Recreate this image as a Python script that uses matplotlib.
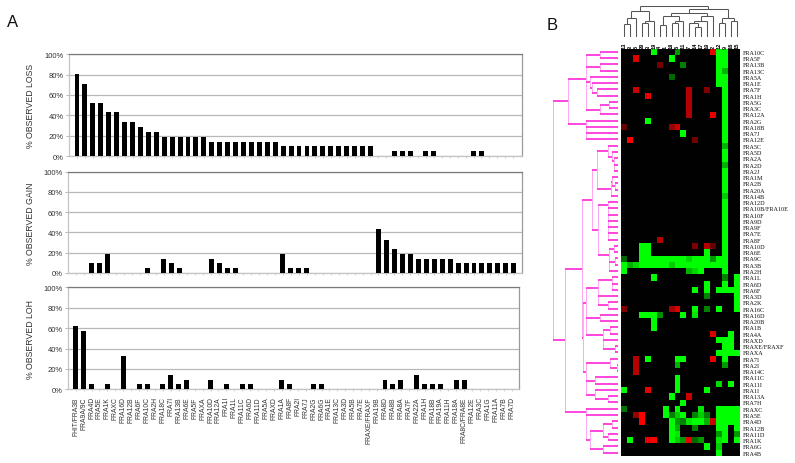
import matplotlib
matplotlib.use("Agg")
import matplotlib.pyplot as plt
import numpy as np
from matplotlib.colors import LinearSegmentedColormap

W, H = 795, 464

categories = ["FHIT/FRA3B", "FRA9A/9C", "FRA4D", "FRA5E", "FRA1K", "FRAXC", "FRA16D", "FRA12B",
              "FRA6F", "FRA10C", "FRA2H", "FRA18C", "FRA7I", "FRA13B", "FRA6E", "FRA5F", "FRAXA",
              "FRA10D", "FRA12A", "FRA1I", "FRA1L", "FRA11C", "FRA6D", "FRA11D", "FRA5A", "FRAXD",
              "FRA1A", "FRA8F", "FRA2I", "FRA7J", "FRA2G", "FRA6G", "FRA1E", "FRA13C", "FRA3D",
              "FRA5B", "FRA7E", "FRAXE/FRAXF", "FRA19B", "FRA8D", "FRA8B", "FRA8A", "FRA7F",
              "FRA22A", "FRA1H", "FRA18B", "FRA19A", "FRA11H", "FRA18A", "FRA8C/FRA8E", "FRA12E",
              "FRA3C", "FRA1G", "FRA11A", "FRA7B", "FRA7D"]

loss = [81, 71, 52, 52, 43, 43, 33, 33, 29, 24, 24, 19, 19, 19, 19, 19, 19, 14, 14, 14, 14, 14, 14, 14,
        14, 14, 9.5, 9.5, 9.5, 9.5, 9.5, 9.5, 9.5, 9.5, 9.5, 9.5, 9.5, 9.5, 0, 0, 4.8, 4.8, 4.8, 0,
        4.8, 4.8, 0, 0, 0, 0, 4.8, 4.8, 0, 0, 0, 0]
gain = [0, 0, 9.5, 9.5, 19, 0, 0, 0, 0, 4.8, 0, 14, 9.5, 4.8, 0, 0, 0, 14, 9.5, 4.8, 4.8, 0, 0, 0, 0, 0,
        19, 4.8, 4.8, 4.8, 0, 0, 0, 0, 0, 0, 0, 0, 43, 33, 24, 19, 19, 14, 14, 14, 14, 14, 9.5, 9.5,
        9.5, 9.5, 9.5, 9.5, 9.5, 9.5]
loh = [62, 57, 4.8, 0, 4.8, 0, 33, 0, 4.8, 4.8, 0, 4.8, 14, 4.8, 9.5, 0, 0, 9.5, 0, 4.8, 0, 4.8, 4.8, 0,
       0, 0, 9.5, 4.8, 0, 0, 4.8, 4.8, 0, 0, 0, 0, 0, 0, 0, 9.5, 4.8, 9.5, 0, 14, 4.8, 4.8, 4.8, 0,
       9.5, 9.5, 0, 0, 0, 0, 0, 0]

row_labels = ["FRA10C", "FRA5F", "FRA13B", "FRA13C", "FRA5A", "FRA1E", "FRA7F", "FRA1H", "FRA5G", "FRA3C",
              "FRA12A", "FRA2G", "FRA18B", "FRA7J", "FRA12E", "FRA5C", "FRA5D", "FRA2A", "FRA2D", "FRA2J",
              "FRA1M", "FRA2B", "FRA20A", "FRA14B", "FRA12D", "FRA10B/FRA10E", "FRA10F", "FRA9D", "FRA9F",
              "FRA7E", "FRA8F", "FRA10D", "FRA6E", "FRA9C", "FRA3B", "FRA2H", "FRA1L", "FRA6D", "FRA6F",
              "FRA3D", "FRA2K", "FRA16C", "FRA16D", "FRA20B", "FRA1B", "FRA4A", "FRAXD", "FRAXE/FRAXF",
              "FRAXA", "FRA7I", "FRA2I", "FRA14C", "FRA11C", "FRA11I", "FRA1I", "FRA13A", "FRA7H", "FRAXC",
              "FRA5E", "FRA4D", "FRA12B", "FRA11D", "FRA1K", "FRA6G", "FRA4B"]
col_labels = ["13", "8", "5", "20", "3", "19", "4", "1", "18", "6", "11", "7", "14", "17", "10", "2",
              "12", "9", "16", "15"]

# per row: {column: value}; positive is green, negative is red
heat_cells = [
    {5: 1, 9: .6, 15: -.9, 16: 1, 17: 1},
    {2: -.85, 8: 1, 16: 1, 17: 1},
    {6: -.45, 10: .5, 16: 1, 17: 1},
    {16: 1, 17: .7},
    {8: .4, 16: 1, 17: 1},
    {16: 1, 17: 1},
    {2: -.8, 11: -.7, 14: -.5, 17: 1},
    {4: -.9, 11: -.7, 17: 1},
    {11: -.7, 17: 1},
    {11: -.7, 17: 1},
    {11: -.7, 15: -.9, 17: 1},
    {4: 1, 17: 1},
    {0: -.4, 8: -.6, 9: -.8, 17: 1},
    {10: 1, 17: 1},
    {1: -1, 12: -.45, 17: 1},
    {17: .7},
    {17: 1}, {17: 1},
    {17: .7},
    {17: 1}, {17: 1}, {17: 1}, {17: 1},
    {17: .8},
    {17: 1}, {17: 1}, {17: 1}, {17: 1}, {17: 1}, {17: 1},
    {6: -.7, 17: 1},
    {3: 1, 4: 1, 12: -.5, 14: -.7, 15: -.4, 17: 1},
    {3: 1, 4: 1, 14: 1, 17: 1},
    {0: .4, 3: 1, 4: 1, 5: 1, 6: 1, 7: 1, 8: 1, 9: 1, 10: 1, 11: .85, 12: 1, 13: 1, 14: 1, 15: .6, 16: 1, 17: 1},
    {0: 1, 1: .7, 2: .85, 3: 1, 4: 1, 5: 1, 6: 1, 7: 1, 8: .8, 9: 1, 10: 1, 11: 1, 12: 1, 13: 1, 14: 1, 15: 1, 16: 1, 17: 1},
    {0: 1, 11: .7, 12: .85, 13: 1, 17: 1},
    {5: 1, 17: .5, 19: 1},
    {14: 1, 17: 1, 19: 1},
    {12: 1, 14: 1, 16: 1, 17: 1, 18: 1, 19: 1},
    {14: .5, 19: 1},
    {19: 1},
    {0: -.5, 8: -.65, 9: -.85, 12: 1, 14: .5, 16: 1, 19: 1},
    {3: 1, 4: 1, 5: 1, 6: .55, 10: 1, 12: .9},
    {5: 1},
    {5: 1},
    {15: -.85, 18: 1},
    {16: 1, 17: 1, 18: 1},
    {17: 1, 18: 1},
    {16: 1, 17: 1, 18: 1, 19: 1},
    {2: -.7, 4: 1, 9: 1, 10: 1, 15: -.9, 17: 1},
    {2: -.7, 9: .7, 17: .6},
    {2: -.7},
    {9: 1},
    {9: 1, 16: .85, 18: 1},
    {0: 1, 4: -.9, 9: 1, 14: 1},
    {8: 1, 11: -.8},
    {10: 1},
    {0: .45, 7: 1, 9: 1, 13: .9, 16: 1, 17: 1, 18: 1, 19: 1},
    {2: -.6, 3: -1, 7: 1, 8: .5, 9: .8, 10: 1, 12: .5, 13: .8, 14: .5, 16: 1, 17: 1, 18: 1, 19: 1},
    {3: -1, 8: 1, 9: .6, 10: .5, 11: .9, 12: 1, 13: 1, 14: .7, 15: -.8, 16: 1, 17: 1, 18: 1, 19: 1},
    {8: 1, 9: .7, 12: .5, 16: 1, 17: 1, 19: 1},
    {8: 1, 9: .9, 16: .6, 17: 1, 19: .6},
    {1: 1, 4: -.9, 5: -1, 8: 1, 9: .8, 10: .6, 11: -.9, 12: .4, 13: .6, 16: .9, 17: 1, 19: 1},
    {14: 1, 16: .8},
    {16: 1},
]

# dendrograms: (merge distance, child, child, ...); integers are leaves
col_tree = (93,
            (79, (57, (40, 0, 1), 2), (50, (42, 3, 4), 5)),
            (85,
             (72, (63, (37, 6, 7), (50, (43, 8, 9), 10)),
              (63, (50, (43, 11, (30, 12, 13)), 14), 15)),
             (57, (43, 16, 17), (50, 18, 19))))

top_cluster = (150,
               (98,
                (98, (55, 0, 1), (55, 2, 3)),
                (98,
                 (85, 4, (80, 5, (63, 6, 7))),
                 (55, (27, 8, 9), 10))),
               (98, 11, 12, 13, 14))
mid_cluster = (110,
               (80,
                (65,
                 (30, 15, (20, 16, (12, 17, 18, 19))),
                 (22, (18, 20, (10, 21, 22)), 23)),
                (60,
                 (32, 24, 25, 26, (30, 27, 28, 29, 30)),
                 (27, (13, 31, 32), (10, 33, 34), 35))),
               (105,
                (98,
                 (60, (20, 36, 37, 38), 39, (30, 40, 41)),
                 (55, 42, 43),
                 (45, (25, 44, 45), 46, (10, 47, 48))),
                (98,
                 (25, 49, (5, 50, 51)),
                 (70, 52, 53),
                 (70, 54, (30, 55, 56)))))
bottom_cluster = (98,
                  57, 58,
                  (85,
                   (45, (20, 59, 60), (30, 61, 62)),
                   (45, 63, 64)))
row_tree = (197, top_cluster, (160, mid_cluster, bottom_cluster))


def px_axes(fig, left, top, right, bottom, **kw):
    return fig.add_axes([left / W, 1 - bottom / H, (right - left) / W, (bottom - top) / H], **kw)


plt.rcParams["font.family"] = ["Liberation Sans", "DejaVu Sans"]
fig = plt.figure(figsize=(W / 100, H / 100), dpi=100, facecolor="white")

panels = [
    (loss, "% OBSERVED LOSS", 69.3, 55.3, 521.7, 157.0, 77.0, 7.93),
    (gain, "% OBSERVED GAIN", 68.3, 172.7, 521.7, 274.0, 76.0, 7.96),
    (loh, "% OBSERVED LOH", 68.3, 288.3, 519.3, 390.3, 75.7, 7.93),
]
tick_color = "#333333"
for i, (vals, title, l, t, r, b, c0, step) in enumerate(panels):
    ax = px_axes(fig, l, t, r, b)
    xs = np.arange(len(categories))
    ax.bar(xs, vals, width=0.62, color="black", zorder=3)
    ax.set_xlim((l - c0) / step, (r - c0) / step)
    ax.set_ylim(0, 100)
    ax.set_yticks([0, 20, 40, 60, 80, 100])
    ax.set_yticklabels(["0%", "20%", "40%", "60%", "80%", "100%"], fontsize=5.5, color=tick_color)
    ax.yaxis.grid(True, color="#b8b8b8", lw=0.9, zorder=0)
    ax.set_axisbelow(True)
    ax.tick_params(axis="y", length=2, width=0.6, color="#aaaaaa", pad=2)
    ax.spines["top"].set_color("#7a7a7a")
    ax.spines["right"].set_color("#9a9a9a")
    ax.spines["left"].set_color("#c4c4c4")
    ax.spines["bottom"].set_color("#c4c4c4")
    for s in ax.spines.values():
        s.set_linewidth(0.9)
    ax.set_xticks(xs)
    ax.tick_params(axis="x", length=1.5, width=0.5, color="#bbbbbb")
    if i == 2:
        ax.set_xticklabels(categories, rotation=90, fontsize=4.9, color=tick_color)
        ax.tick_params(axis="x", pad=3.5)
    else:
        ax.set_xticklabels([])
    fig.text(30.5 / W, 1 - (t + b) / 2 / H, title, rotation=90, fontsize=6.3, color=tick_color,
             ha="center", va="center")

fig.text(7 / W, 1 - 27 / H, "A", fontsize=12, color="#111111", ha="left", va="baseline")
fig.text(547 / W, 1 - 30 / H, "B", fontsize=12, color="#111111", ha="left", va="baseline")

# heat map
hm_l, hm_t, hm_r, hm_b = 621.0, 49.7, 740.0, 456.7
matrix = np.zeros((len(row_labels), len(col_labels)))
for r_i, cells in enumerate(heat_cells):
    for c_i, v in cells.items():
        matrix[r_i, c_i] = v
cmap = LinearSegmentedColormap.from_list("rg", ["#ff0000", "#000000", "#00ff00"])
ax_h = px_axes(fig, hm_l, hm_t, hm_r, hm_b)
ax_h.imshow(matrix, cmap=cmap, vmin=-1, vmax=1, aspect="auto", interpolation="nearest",
            extent=(0, len(col_labels), len(row_labels), 0))
ax_h.set_xticks(np.arange(len(col_labels)) + 0.5)
ax_h.set_xticklabels(col_labels, rotation=90, fontsize=3.9, family="Liberation Mono", weight="bold")
ax_h.xaxis.tick_top()
ax_h.set_yticks(np.arange(len(row_labels)) + 0.5)
ax_h.set_yticklabels(row_labels, fontsize=4.4, family="Liberation Serif", color="#111111")
ax_h.yaxis.tick_right()
ax_h.tick_params(length=0, pad=1.8)
ax_h.tick_params(axis="x", pad=0.8)
for s in ax_h.spines.values():
    s.set_visible(False)


def layout(node, fn_line, parent=None):
    """Return the leaf position of a node and draw it through fn_line(kind, d0, d1, p)."""
    if isinstance(node, int):
        pos, dist = node + 0.5, 0
    else:
        dist = node[0]
        kids = [layout(k, fn_line, dist) for k in node[1:]]
        fn_line("join", dist, kids[0], kids[-1])
        pos = (kids[0] + kids[1]) / 2
    if parent is not None:
        fn_line("stem", dist, parent, pos)
    return pos


# column dendrogram
ax_t = px_axes(fig, hm_l, 6.0, hm_r, 38.3)
ax_t.set_xlim(0, len(col_labels))
ax_t.set_ylim(0, 97)
ax_t.axis("off")


def col_line(kind, a, b, c):
    if kind == "join":
        ax_t.plot([b, c], [a, a], color="#555555", lw=0.75, solid_capstyle="butt")
    else:
        ax_t.plot([c, c], [a, b], color="#555555", lw=0.75, solid_capstyle="butt")


layout(col_tree, col_line)

# row dendrogram
ax_l = px_axes(fig, 552.0, hm_t, 618.3, hm_b)
ax_l.set_xlim(199, 0)
ax_l.set_ylim(len(row_labels), 0)
ax_l.axis("off")


def row_line(kind, a, b, c):
    if kind == "join":
        ax_l.plot([a, a], [b, c], color="#ffa6f4", lw=0.7, solid_capstyle="butt", zorder=1)
    else:
        ax_l.plot([b, a], [c, c], color="#ff2fd8", lw=1.25, solid_capstyle="butt", zorder=2)


layout(row_tree, row_line)

fig.savefig("out.png", dpi=100, facecolor="white")
